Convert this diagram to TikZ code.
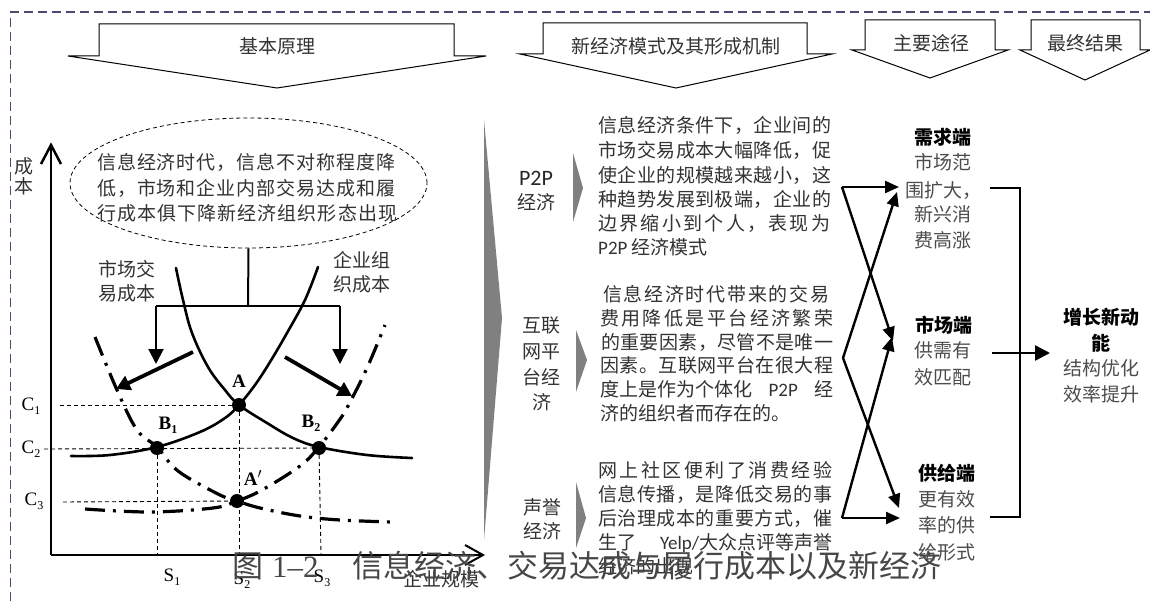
\documentclass[tikz,border=0pt]{standalone}
\usepackage{fontspec}
\setmainfont{Liberation Serif}
\newfontfamily\cjk{Noto Sans CJK SC}
\newfontfamily\lat{Carlito}
\usetikzlibrary{arrows.meta,shapes.geometric}
\definecolor{framec}{RGB}{80,72,110}
\definecolor{wedgec}{RGB}{128,128,128}
\makeatletter
\def\spr@a#1{#1\futurelet\spr@n\spr@b}
\def\spr@b{\ifx\spr@n\spr@end\expandafter\@gobble\else\hfil\expandafter\spr@a\fi}
\def\spr@end{\spr@end}
\newcommand\jl[2]{\makebox[#1][s]{\spr@a#2\spr@end}}
\makeatother
\newcommand\sbx[2]{#1\raisebox{-4pt}{\fontsize{12}{12}\selectfont #2}}
\tikzset{
  zh/.style={font=\cjk\fontsize{19}{24}\selectfont, inner sep=0pt, text height=15.8pt, text depth=1.3pt, text=black!80},
  zhl/.style={zh, anchor=west},
  hd/.style={zh, font=\cjk\bfseries\fontsize{19}{24}\selectfont, text=black},
  rt/.style={zh, text=black!70},
  banner/.style={draw=black, line width=1pt, fill=white, line join=miter},
  frame/.style={draw=framec, line width=1.5pt, dash pattern=on 9pt off 5pt},
  guide/.style={line width=0.9pt, dash pattern=on 4pt off 3pt},
  curve/.style={line width=2.6pt, line cap=round},
  dashdot/.style={line width=3.2pt, dash pattern=on 20pt off 8pt on 3pt off 8pt},
  lab/.style={font=\fontsize{19}{19}\selectfont, inner sep=0pt},
  blab/.style={font=\bfseries\fontsize{19}{19}\selectfont, inner sep=0pt},
  wedge/.style={fill=wedgec},
  conn/.style={line width=2.4pt, -{Triangle[length=14pt,width=12pt]}},
  plain/.style={line width=2.4pt}
}
\begin{document}
\begin{tikzpicture}[x=1pt,y=-1pt]
\useasboundingbox (0,0) rectangle (1150,601);
\fill[white] (0,0) rectangle (1150,601);
% frame
\draw[frame] (10.5,601) -- (10.5,12) -- (1150,12);
% banners
\draw[banner] (99,24) -- (454,24) -- (454,56) -- (486,56) -- (277,88) -- (68,56) -- (99,56) -- cycle;
\draw[banner] (543,23) -- (807,23) -- (807,54) -- (832,54) -- (676,88) -- (520,54) -- (543,54) -- cycle;
\draw[banner] (865,20) -- (995,20) -- (995,50) -- (1008,50) -- (930,78) -- (852,50) -- (865,50) -- cycle;
\draw[banner] (1031,20) -- (1140,20) -- (1140,50) -- (1150,50) -- (1085,80) -- (1020,50) -- (1031,50) -- cycle;
\node[zh] (bn1) at (277,46) {基本原理};
\node[zh] (bn2) at (676,46) {新经济模式及其形成机制};
\node[zh] (bn3) at (931,43) {主要途径};
\node[zh] (bn4) at (1085,43) {最终结果};
% ellipse
\node[draw, ellipse, line width=0.8pt, dash pattern=on 4pt off 3pt, minimum width=357pt, minimum height=130pt, inner sep=0pt] (ell) at (248.5,183) {};
\node[zhl] (e1) at (97,162) {\jl{298pt}{信息经济时代，信息不对称程度降}};
\node[zhl] (e2) at (97,188) {\jl{298pt}{低，市场和企业内部交易达成和履}};
\node[zhl] (e3) at (97,213) {\jl{300pt}{行成本俱下降新经济组织形态出现}};
% axes
\coordinate (O) at (51,555);
\coordinate (Ytop) at (51,145);
\coordinate (Xend) at (483,555);
\draw[line width=2.5pt] (O) -- (Ytop);
\draw[line width=2.5pt, line join=miter] (41,164) -- (Ytop) -- (61,164);
\draw[line width=2.5pt] (O) -- (Xend);
\draw[line width=2pt, line join=miter] (465,545) -- (Xend) -- (465,565);
\node[zh] (yl1) at (24,166) {成};
\node[zh] (yl2) at (24,186) {本};
\node[zh] (xl) at (441,579) {企业规模};
% labels of curves
\node[zh] (m1) at (127,269) {市场交};
\node[zh] (m2) at (127,293) {易成本};
\node[zh] (q1) at (362,260) {企业组};
\node[zh] (q2) at (362,284) {织成本};
% connector from ellipse
\coordinate (bar) at (248,306);
\coordinate (barL) at (156,306);
\coordinate (barR) at (340,306);
\coordinate (dL) at (156,364);
\coordinate (dR) at (340,364);
\draw[line width=2pt] (ell.south) -- (bar);
\draw[line width=2pt] (barL) -- (barR);
\draw[line width=2pt, -{Triangle[length=15pt,width=15pt]}] (barL) -- (dL);
\draw[line width=2pt, -{Triangle[length=15pt,width=15pt]}] (barR) -- (dR);
% thick diagonal arrows
\coordinate (sl1) at (193,352);
\coordinate (sl2) at (116,389);
\coordinate (sr1) at (285,357);
\coordinate (sr2) at (352,396);
\draw[line width=3.8pt, -{Triangle[length=14pt,width=15pt]}] (sl1) -- (sl2);
\draw[line width=3.8pt, -{Triangle[length=14pt,width=15pt]}] (sr1) -- (sr2);
% guide lines
\coordinate (A) at (239,405);
\coordinate (B1) at (157,448);
\coordinate (B2) at (319,448);
\coordinate (A2) at (237,501);
\draw[guide] (60,405) -- (A);
\draw[guide] (44,449) -- (B2);
\draw[guide] (63,502) -- (A2);
\draw[guide] (A) -- (239,555);
\draw[guide] (B1) -- (157,555);
\draw[guide] (B2) -- (321,555);
% curves
\draw[curve] plot[smooth, tension=0.6] coordinates {(176,268) (183,300) (192,333) (208,367) (225,390) (239,405) (267,423) (293,438) (319,447) (367,455) (412,458)};
\draw[curve] plot[smooth, tension=0.6] coordinates {(71,456) (110,455) (157,447) (200,432) (225,418) (239,405) (255,385) (270,362) (287,333) (305,300) (318,267)};
\draw[dashdot] plot[smooth, tension=0.6] coordinates {(95,337) (117,390) (137,430) (157,447) (178,471) (218,494) (237,501) (260,508) (300,516) (340,520) (392,522)};
\draw[dashdot] plot[smooth, tension=0.6] coordinates {(85,509) (150,512) (213,508) (237,501) (262,490) (300,466) (319,447) (338,422) (348,406) (367,368) (385,325)};
% points
\fill (A) circle[radius=7pt];
\fill (B1) circle[radius=7pt];
\fill (B2) circle[radius=7pt];
\fill (A2) circle[radius=7pt];
\node[blab] (lA) at (239,381) {A};
\node[blab] (lB1) at (168,425) {\sbx{B}{1}};
\node[blab] (lB2) at (311,423) {\sbx{B}{2}};
\node[blab] (lA2) at (253,478) {A$^{\prime}$};
\node[lab] (c1) at (31,406) {\sbx{C}{1}};
\node[lab] (c2) at (31,449) {\sbx{C}{2}};
\node[lab] (c3) at (34,501) {\sbx{C}{3}};
\node[lab] (s1) at (172,577) {\sbx{S}{1}};
\node[lab] (s2) at (242,580) {\sbx{S}{2}};
\node[lab] (s3) at (322,578) {\sbx{S}{3}};
% middle column
\fill[wedge] (484,120) -- (502,318) -- (484,540) -- cycle;
\fill[wedge] (573,153) -- (583,188) -- (573,222) -- cycle;
\fill[wedge] (576,330) -- (587,360) -- (576,392) -- cycle;
\fill[wedge] (576,482) -- (586,518) -- (576,548) -- cycle;
\node[font=\lat\fontsize{22}{22}\selectfont, inner sep=0pt, text=black!85] (p2p) at (536,178) {P2P};
\node[zh] (p2pb) at (536,202) {经济};
\node[zh] (hl1) at (541,325) {互联};
\node[zh] (hl2) at (541,351) {网平};
\node[zh] (hl3) at (541,377) {台经};
\node[zh] (hl4) at (542,402) {济};
\node[zh] (sy1) at (542,507) {声誉};
\node[zh] (sy2) at (542,531) {经济};
% block 1
\node[zhl] (a1) at (598,125) {\jl{233pt}{信息经济条件下，企业间的}};
\node[zhl] (a2) at (598,150) {\jl{233pt}{市场交易成本大幅降低，促}};
\node[zhl] (a3) at (598,175) {\jl{233pt}{使企业的规模越来越小，这}};
\node[zhl] (a4) at (598,199) {\jl{233pt}{种趋势发展到极端，企业的}};
\node[zhl] (a5) at (598,223) {\jl{232pt}{边界缩小到个人，表现为}};
\node[zhl] (a6) at (598,247) {{\lat P2P} 经济模式};
% block 2
\node[zhl] (b1) at (603,294) {\jl{226pt}{信息经济时代带来的交易}};
\node[zhl] (b2) at (600,318) {\jl{233pt}{费用降低是平台经济繁荣}};
\node[zhl] (b3) at (601,342) {\jl{232pt}{的重要因素，尽管不是唯一}};
\node[zhl] (b4) at (600,365) {\jl{233pt}{因素。互联网平台在很大程}};
\node[zhl] (b5) at (600,389) {\makebox[233pt][s]{度上是作为个体化\hfill{\lat P2P}\hfill 经}};
\node[zhl] (b6) at (600,413) {济的组织者而存在的。};
% block 3
\node[zhl] (c31) at (598,470) {\jl{234pt}{网上社区便利了消费经验}};
\node[zhl] (c32) at (598,494) {\jl{234pt}{信息传播，是降低交易的事}};
\node[zhl] (c33) at (598,518) {\jl{234pt}{后治理成本的重要方式，催}};
\node[zhl] (c34) at (598,542) {\makebox[234pt][s]{生了\hfill{\lat Yelp/}大众点评等声誉}};
\node[zhl] (c35) at (598,566) {经济的出现};
% right column
\node[hd] (r1) at (943,137) {需求端};
\node[rt] (r2) at (943,162) {市场范};
\node[rt] (r3) at (943,190) {围扩大，};
\node[rt] (r4) at (943,214) {新兴消};
\node[rt] (r5) at (943,240) {费高涨};
\node[hd] (r6) at (944,325) {市场端};
\node[rt] (r7) at (943,350) {供需有};
\node[rt] (r8) at (943,377) {效匹配};
\node[hd] (r9) at (947,473) {供给端};
\node[rt] (r10) at (947,499) {更有效};
\node[rt] (r11) at (947,525) {率的供};
\node[rt] (r12) at (947,552) {给形式};
\node[hd] (f1) at (1101,317) {增长新动};
\node[hd] (f2) at (1101,343) {能};
\node[rt] (f3) at (1101,368) {结构优化};
\node[rt] (f4) at (1101,394) {效率提升};
% cross arrows
\coordinate (T) at (842,187);
\coordinate (M) at (843,358);
\coordinate (Bv) at (842,518);
\coordinate (tD1) at (899,187);
\coordinate (tD2) at (897,192);
\coordinate (tM1) at (893,341);
\coordinate (tM2) at (892,337);
\coordinate (tS1) at (899,508);
\coordinate (tS2) at (900,518);
\draw[conn] (T) -- (tD1);
\draw[conn] (T) -- (tM1);
\draw[conn] (M) -- (tD2);
\draw[conn] (M) -- (tS1);
\draw[conn] (Bv) -- (tM2);
\draw[conn] (Bv) -- (tS2);
% bracket
\coordinate (k1) at (990,188);
\coordinate (k2) at (1020,188);
\coordinate (k3) at (1020,517);
\coordinate (k4) at (990,517);
\coordinate (k5) at (992,353);
\coordinate (k6) at (1050,353);
\draw[plain, line join=miter] (k1) -- (k2) -- (k3) -- (k4);
\draw[conn, -{Triangle[length=15pt,width=15pt]}] (k5) -- (k6);
% caption
\node[anchor=west, inner sep=0pt, font=\cjk\fontsize{31}{31}\selectfont, text height=25.7pt, text depth=2.2pt, text=black!72] (cap) at (232,566) {图\hspace*{9pt}{\rmfamily 1–2}\hspace*{34pt}信息经济、交易达成与履行成本以及新经济};
\end{tikzpicture}
\end{document}
